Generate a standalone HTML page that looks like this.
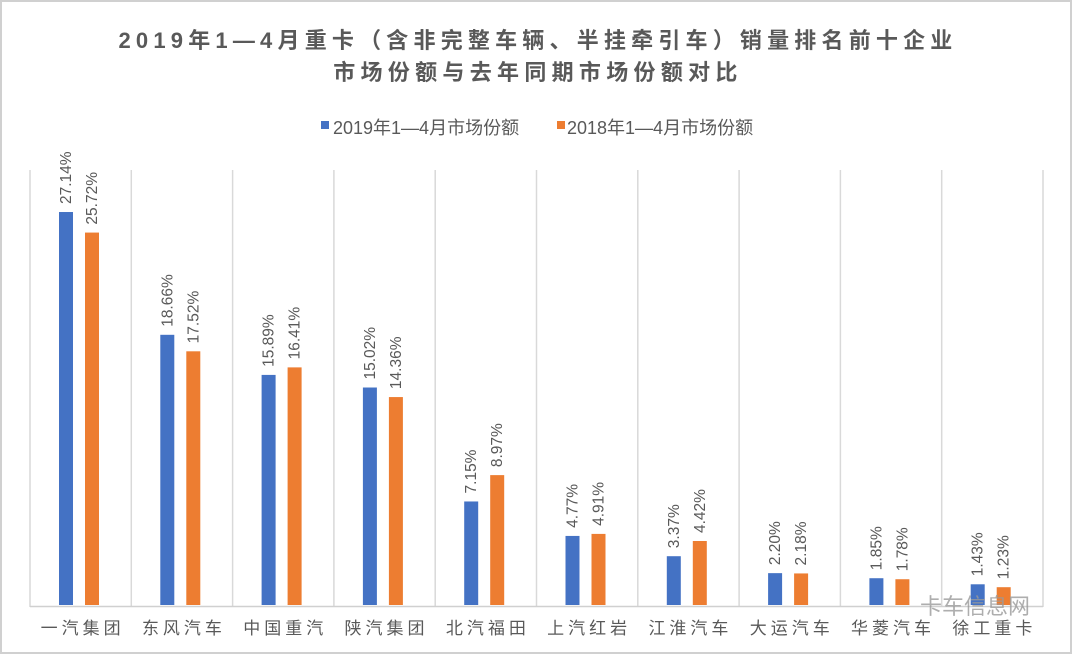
<!DOCTYPE html>
<html><head><meta charset="utf-8">
<style>
body{margin:0;background:#fff;}
svg{display:block;font-family:"Liberation Sans","Noto Sans CJK SC",sans-serif;}
</style></head>
<body>
<svg id="chart" width="1072" height="654" viewBox="0 0 1072 654">
<rect x="1" y="1" width="1070" height="652" fill="#fff" stroke="#d0d0d0" stroke-width="2"/>
<text x="538" y="48" text-anchor="middle" font-size="22" font-weight="bold" letter-spacing="5.2" fill="#595959">2019年1—4月重卡（含非完整车辆、半挂牵引车）销量排名前十企业</text>
<text x="538" y="80" text-anchor="middle" font-size="22" font-weight="bold" letter-spacing="5.3" fill="#595959">市场份额与去年同期市场份额对比</text>
<g>
<g><rect x="321" y="121" width="8" height="8" fill="#4472c4"/><text x="333" y="134" font-size="18" fill="#595959">2019年1—4月市场份额</text></g>
<g><rect x="557" y="121" width="8" height="8" fill="#ed7d31"/><text x="567" y="134" font-size="18" fill="#595959">2018年1—4月市场份额</text></g>
</g>
<g id="grid"></g>
<g id="bars"></g>
<g id="labels"></g>
<g id="xaxis"></g>
<text x="920" y="614" font-size="22" fill="#9a9a9a" opacity="0.8">卡车信息网</text>
</svg>
<script>
const categories=["一汽集团","东风汽车","中国重汽","陕汽集团","北汽福田","上汽红岩","江淮汽车","大运汽车","华菱汽车","徐工重卡"];
const series2019=[27.14,18.66,15.89,15.02,7.15,4.77,3.37,2.20,1.85,1.43];
const series2018=[25.72,17.52,16.41,14.36,8.97,4.91,4.42,2.18,1.78,1.23];
const NS="http://www.w3.org/2000/svg";
const x0=30,x1=1043,base=605,pxPer=14.48;
const band=(x1-x0)/categories.length;
const xBand=i=>x0+i*band;
const y=v=>base-v*pxPer;
function mk(tag,attrs,parent){const e=document.createElementNS(NS,tag);for(const k in attrs)e.setAttribute(k,attrs[k]);parent.appendChild(e);return e;}
const grid=document.getElementById('grid'),bars=document.getElementById('bars'),labels=document.getElementById('labels'),xa=document.getElementById('xaxis');
for(let i=0;i<=categories.length;i++){
  const l=mk('line',{x1:xBand(i),x2:xBand(i),y1:170,y2:607,stroke:'#d9d9d9','stroke-width':1.5},grid);
  
  
}
const ax=mk('line',{x1:x0,x2:x1,y1:606.5,y2:606.5,stroke:'#d0d0d0','stroke-width':1.5},xa);


[[series2019,29,'#4472c4','2019'],[series2018,55,'#ed7d31','2018']].forEach(([s,off,col,yr])=>{
  s.forEach((v,i)=>{
    const bx=xBand(i)+off;
    const r=mk('rect',{x:bx,y:y(v),width:14,height:base-y(v),fill:col},bars);
    
    
    const cx=bx+7+5,ty=y(v)-8;
    const t=mk('text',{x:cx,y:ty,transform:`rotate(-90 ${cx} ${ty})`,'font-size':15.5,fill:'#595959'},labels);
    t.textContent=v.toFixed(2)+'%';
    
    
  });
});
categories.forEach((c,i)=>{
  const t=mk('text',{x:xBand(i)+band/2+2,y:634,'text-anchor':'middle','font-size':17,'letter-spacing':4,fill:'#595959'},xa);
  t.textContent=c;
  
  
});
</script>
</body></html>
